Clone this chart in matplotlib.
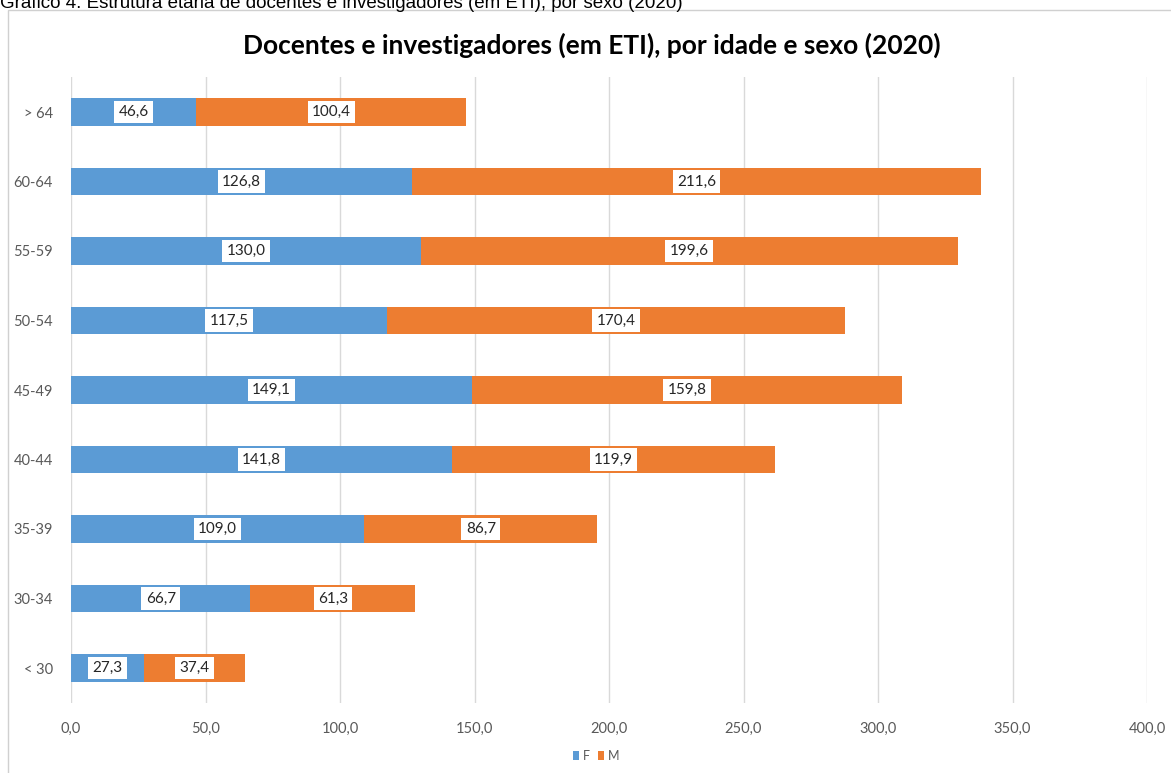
"""Docentes e investigadores (em ETI), por idade e sexo (2020)."""
import matplotlib
matplotlib.use("Agg")
import matplotlib.pyplot as plt
from matplotlib.patches import Rectangle

ages = ["< 30", "30-34", "35-39", "40-44", "45-49", "50-54", "55-59", "60-64", "> 64"]
fem = [27.3, 66.7, 109.0, 141.8, 149.1, 117.5, 130.0, 126.8, 46.6]
masc = [37.4, 61.3, 86.7, 119.9, 159.8, 170.4, 199.6, 211.6, 100.4]
xticks = [0, 50, 100, 150, 200, 250, 300, 350, 400]

BLUE = "#5B9BD5"
ORANGE = "#ED7D31"
TXT = "#595959"
FONT = ["Lato", "DejaVu Sans"]


def fmt(v):
    return f"{v:.1f}".replace(".", ",")


def main():
    W, H = 1171, 773
    fig = plt.figure(figsize=(W / 100, H / 100), dpi=100)
    ax = fig.add_axes([71 / W, 1 - 702.75 / H, (1147 - 71) / W, (702.75 - 77.25) / H])

    # chart frame
    fig.patches.append(Rectangle((8 / W, -0.05), 1.2, 1 - 10 / H + 0.05,
                                 transform=fig.transFigure, fill=False,
                                 edgecolor="#D0D0D0", lw=1.0))

    y = range(len(ages))
    ax.barh(y, fem, height=0.4, color=BLUE, label="F", zorder=2)
    ax.barh(y, masc, left=fem, height=0.4, color=ORANGE, label="M", zorder=2)

    box = dict(boxstyle="square,pad=0.28", fc="white", ec="none")
    for i, (f, m) in enumerate(zip(fem, masc)):
        ax.text(f / 2, i, fmt(f), ha="center", va="center", fontsize=11,
                color="#262626", family=FONT, bbox=box, zorder=3)
        ax.text(f + m / 2, i, fmt(m), ha="center", va="center", fontsize=11,
                color="#262626", family=FONT, bbox=box, zorder=3)

    ax.set_xlim(0, 400)
    ax.set_ylim(-0.5, len(ages) - 0.5)
    ax.set_xticks(xticks, labels=[fmt(v) for v in xticks])
    ax.set_yticks(list(y), labels=ages)
    for lab in ax.get_xticklabels() + ax.get_yticklabels():
        lab.set_family(FONT)
        lab.set_fontsize(10.5)
        lab.set_color(TXT)
    ax.tick_params(length=0, pad=14)
    ax.tick_params(axis="y", pad=13)
    ax.grid(axis="x", color="#D9D9D9", lw=1.0, zorder=0)
    for s in ax.spines.values():
        s.set_visible(False)

    fig.text(592 / W, 1 - 45 / H, "Docentes e investigadores (em ETI), por idade e sexo (2020)",
             ha="center", va="center", fontsize=19, fontweight="bold",
             color="black", family=FONT)
    fig.text(0, 1 - 8 / H,
             "Gráfico 4. Estrutura etária de docentes e investigadores (em ETI), por sexo (2020)",
             ha="left", va="baseline", fontsize=13.5, color="black",
             family=["Liberation Sans", "DejaVu Sans"])

    leg = fig.legend(loc="center", bbox_to_anchor=(596 / W, 1 - 756 / H), ncol=2,
                     frameon=False, handlelength=0.5, handleheight=0.8,
                     handletextpad=0.3, columnspacing=0.6,
                     prop={"family": FONT, "size": 9})
    for t in leg.get_texts():
        t.set_color(TXT)

    fig.savefig("out.png", dpi=100)
    plt.close(fig)


if __name__ == "__main__":
    main()
